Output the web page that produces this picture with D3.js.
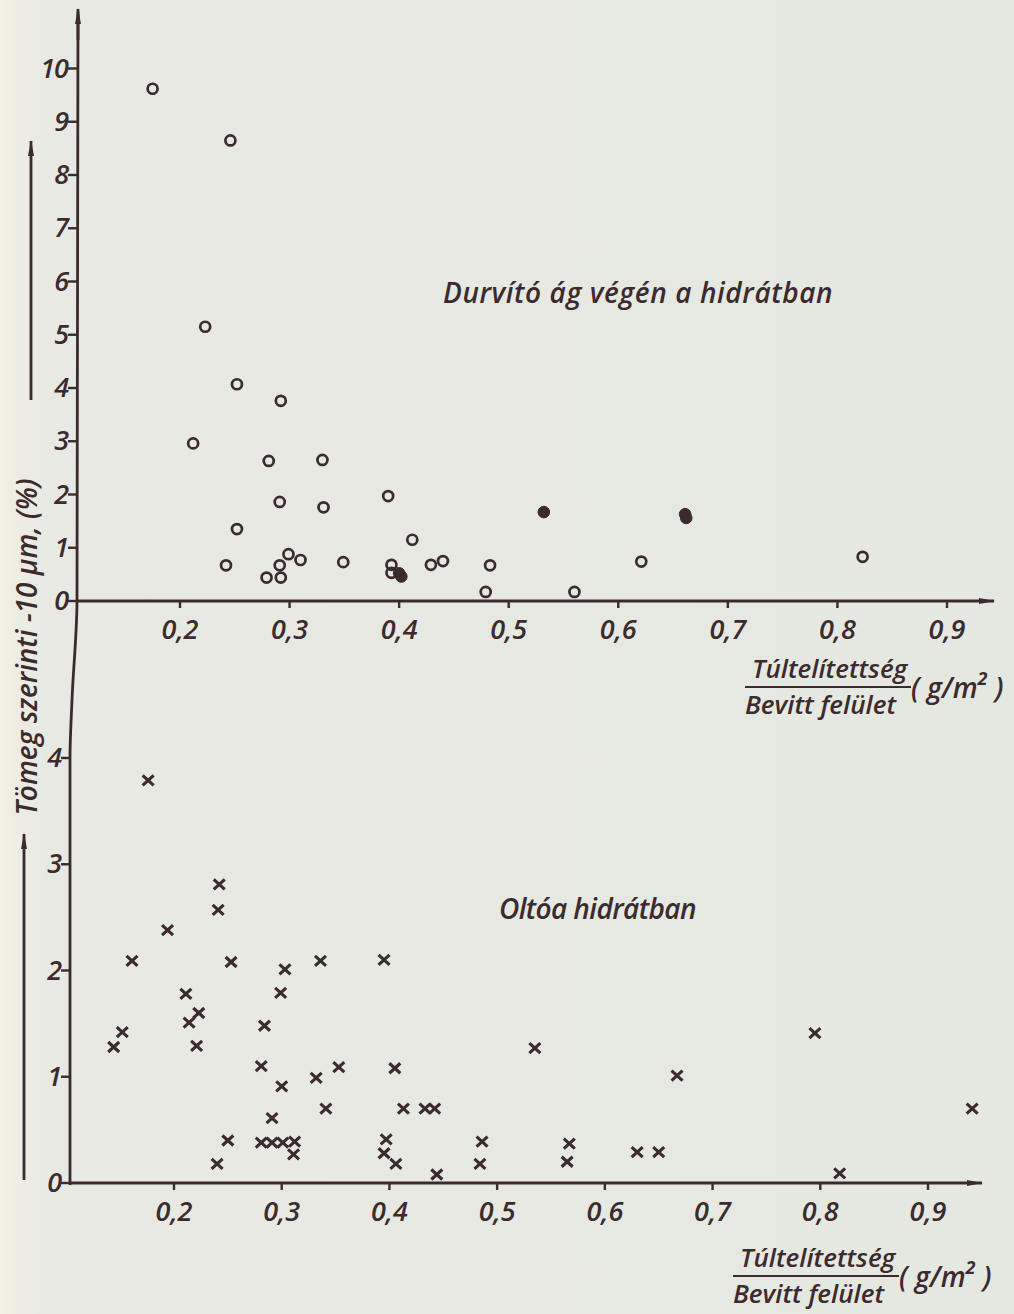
<!DOCTYPE html>
<html><head><meta charset="utf-8">
<script src="https://cdn.jsdelivr.net/npm/d3@7"></script>
<style>
html,body{margin:0;padding:0;background:#e6e8e2;}
svg{display:block;}
text{font-family:"Open Sans",sans-serif;font-style:italic;font-weight:600;fill:#3b2b2e;}
</style></head>
<body>
<script>
// ---- Data ----
const xTicks = [0.2,0.3,0.4,0.5,0.6,0.7,0.8,0.9];
const xTickLabels = ["0,2","0,3","0,4","0,5","0,6","0,7","0,8","0,9"];
const topYTicks = [0,1,2,3,4,5,6,7,8,9,10];
const botYTicks = [0,1,2,3,4];

// Upper panel: "Durvító ág végén a hidrátban" (open circles)
const topX = [0.175,0.246,0.223,0.252,0.292,0.212,0.281,0.330,0.291,0.331,0.390,0.252,0.412,0.242,0.299,0.310,0.291,0.279,0.292,0.349,0.393,0.393,0.429,0.440,0.479,0.483,0.560,0.621,0.823];
const topY = [9.62,8.65,5.15,4.07,3.76,2.96,2.63,2.65,1.86,1.76,1.97,1.35,1.15,0.67,0.88,0.77,0.67,0.44,0.44,0.73,0.68,0.53,0.68,0.75,0.17,0.67,0.17,0.74,0.83];
// Upper panel: darkened (filled) circles
const topFilledX = [0.400,0.402,0.532,0.661,0.662];
const topFilledY = [0.52,0.46,1.67,1.63,1.56];

// Lower panel: "Oltóa hidrátban" (crosses)
const botX = [0.176,0.242,0.241,0.194,0.161,0.253,0.303,0.336,0.395,0.211,0.299,0.214,0.223,0.284,0.152,0.144,0.221,0.281,0.300,0.332,0.353,0.405,0.341,0.413,0.433,0.442,0.291,0.250,0.281,0.291,0.301,0.312,0.311,0.240,0.397,0.395,0.406,0.444,0.486,0.484,0.535,0.667,0.567,0.565,0.630,0.650,0.795,0.818,0.941];
const botY = [3.79,2.81,2.57,2.38,2.09,2.08,2.01,2.09,2.10,1.78,1.79,1.51,1.60,1.48,1.42,1.28,1.29,1.10,0.91,0.99,1.09,1.08,0.70,0.70,0.70,0.70,0.61,0.40,0.38,0.38,0.38,0.39,0.27,0.18,0.41,0.28,0.18,0.08,0.39,0.18,1.27,1.01,0.37,0.20,0.29,0.29,1.41,0.09,0.70];

const ink = "#3b2b2e";
const W = 1014, H = 1314;
const svg = d3.select("body").append("svg").attr("width",W).attr("height",H);

// paper
const defs = svg.append("defs");
const g1 = defs.append("linearGradient").attr("id","paper").attr("x1","0").attr("x2","1").attr("y1","0").attr("y2","0");
g1.append("stop").attr("offset","0").attr("stop-color","#f4f1e4");
g1.append("stop").attr("offset","0.015").attr("stop-color","#eeede4");
g1.append("stop").attr("offset","0.05").attr("stop-color","#e7e9e2");
g1.append("stop").attr("offset","1").attr("stop-color","#e5e7e1");
svg.append("rect").attr("width",W).attr("height",H).attr("fill","url(#paper)");

// arrow marker
defs.append("marker").attr("id","arr").attr("viewBox","0 0 16 8").attr("refX",15).attr("refY",4)
  .attr("markerWidth",16).attr("markerHeight",8).attr("markerUnits","userSpaceOnUse").attr("orient","auto")
  .append("path").attr("d","M0,1 L16,4 L0,7 Z").attr("fill",ink);

// ---- Scales ----
const xTop = d3.scaleLinear().domain([0.2,0.9]).range([180,947]);
const yTop = d3.scaleLinear().domain([0,10]).range([601,68.5]);
const xBot = d3.scaleLinear().domain([0.2,0.9]).range([174,928]);
const yBot = d3.scaleLinear().domain([0,4]).range([1183,758]);

const topOrigin = 77, botOrigin = 70;

// main vertical axis (top arrow to bottom origin)
svg.append("path")
  .attr("d", d3.line().curve(d3.curveMonotoneY)([[78, 12],[77, yTop(0)],[72, 700],[botOrigin, yBot(4)],[botOrigin, yBot(0)+2]]))
  .attr("fill","none").attr("stroke",ink).attr("stroke-width",2.8);
svg.append("line").attr("x1",78).attr("y1",40).attr("x2",78).attr("y2",9)
  .attr("stroke",ink).attr("stroke-width",2.8).attr("marker-end","url(#arr)");

// horizontal axes
svg.append("line").attr("x1",topOrigin).attr("y1",yTop(0)).attr("x2",994).attr("y2",yTop(0))
  .attr("stroke",ink).attr("stroke-width",2.8).attr("marker-end","url(#arr)");
svg.append("line").attr("x1",botOrigin).attr("y1",yBot(0)).attr("x2",982).attr("y2",yBot(0))
  .attr("stroke",ink).attr("stroke-width",2.8).attr("marker-end","url(#arr)");

// x ticks
function xAxis(scale, y0){
  const g = svg.append("g");
  g.selectAll("line").data(xTicks).join("line")
    .attr("x1",d=>scale(d)).attr("x2",d=>scale(d)).attr("y1",y0).attr("y2",y0+7)
    .attr("stroke",ink).attr("stroke-width",2.4);
  g.selectAll("text").data(xTicks).join("text")
    .attr("x",d=>scale(d)).attr("y",y0+38).attr("text-anchor","middle")
    .attr("font-size",27).text((d,i)=>xTickLabels[i]);
}
xAxis(xTop, yTop(0));
xAxis(xBot, yBot(0));

// y ticks
function yAxis(scale, ticks, x0){
  const g = svg.append("g");
  g.selectAll("line").data(ticks).join("line")
    .attr("x1",x0-9).attr("x2",x0).attr("y1",d=>scale(d)).attr("y2",d=>scale(d))
    .attr("stroke",ink).attr("stroke-width",2.4);
  g.selectAll("text").data(ticks).join("text")
    .attr("x",x0-9).attr("y",d=>scale(d)+9).attr("text-anchor","end")
    .attr("font-size",27).attr("letter-spacing",-1).text(d=>d);
}
yAxis(yTop, topYTicks, topOrigin);
yAxis(yBot, botYTicks, botOrigin);

// ---- Marks ----
const topData = topX.map((x,i)=>({x, y:topY[i]}));
svg.append("g").selectAll("circle").data(topData).join("circle")
  .attr("cx",d=>xTop(d.x)).attr("cy",d=>yTop(d.y)).attr("r",5)
  .attr("fill","none").attr("stroke",ink).attr("stroke-width",2.7);
const topFilled = topFilledX.map((x,i)=>({x, y:topFilledY[i]}));
svg.append("g").selectAll("circle").data(topFilled).join("circle")
  .attr("cx",d=>xTop(d.x)).attr("cy",d=>yTop(d.y)).attr("r",5.8)
  .attr("fill",ink).attr("stroke",ink).attr("stroke-width",1);

const botData = botX.map((x,i)=>({x, y:botY[i]}));
svg.append("g").selectAll("path").data(botData).join("path")
  .attr("transform",d=>`translate(${xBot(d.x)},${yBot(d.y)})`)
  .attr("d","M-5.5,-5L5.5,5M5.5,-5L-5.5,5")
  .attr("stroke",ink).attr("stroke-width",3.1).attr("fill","none");

// ---- Annotations ----
svg.append("text").attr("x",443).attr("y",303).attr("font-size",28).attr("letter-spacing",0.6).text("Durvító ág végén a hidrátban");
svg.append("text").attr("x",499).attr("y",919).attr("font-size",28).attr("letter-spacing",-0.6).text("Oltóa hidrátban");

function fractionLabel(x, yLine){
  svg.append("text").attr("x",x+7).attr("y",yLine-9).attr("font-size",26).text("Túltelítettség");
  svg.append("line").attr("x1",x).attr("x2",x+166).attr("y1",yLine).attr("y2",yLine)
    .attr("stroke",ink).attr("stroke-width",2.2);
  svg.append("text").attr("x",x).attr("y",yLine+27).attr("font-size",26).text("Bevitt felület");
  const t = svg.append("text").attr("x",x+166).attr("y",yLine+11).attr("font-size",28);
  t.append("tspan").text("( g/m");
  t.append("tspan").attr("dy",-13).attr("font-size",18).attr("font-weight","bold").text("2");
  t.append("tspan").attr("dy",13).text(" )");
}
fractionLabel(745, 687);
fractionLabel(733, 1276);

// y-axis title with arrows
svg.append("text").attr("transform","translate(37,647) rotate(-90)").attr("text-anchor","middle")
  .attr("font-size",28).text("Tömeg szerinti  -10 μm, (%)");
svg.append("line").attr("x1",31).attr("y1",400).attr("x2",31).attr("y2",141)
  .attr("stroke",ink).attr("stroke-width",2.8).attr("marker-end","url(#arr)");
svg.append("line").attr("x1",24).attr("y1",1180).attr("x2",24).attr("y2",834)
  .attr("stroke",ink).attr("stroke-width",2.8).attr("marker-end","url(#arr)");
</script>
</body></html>
